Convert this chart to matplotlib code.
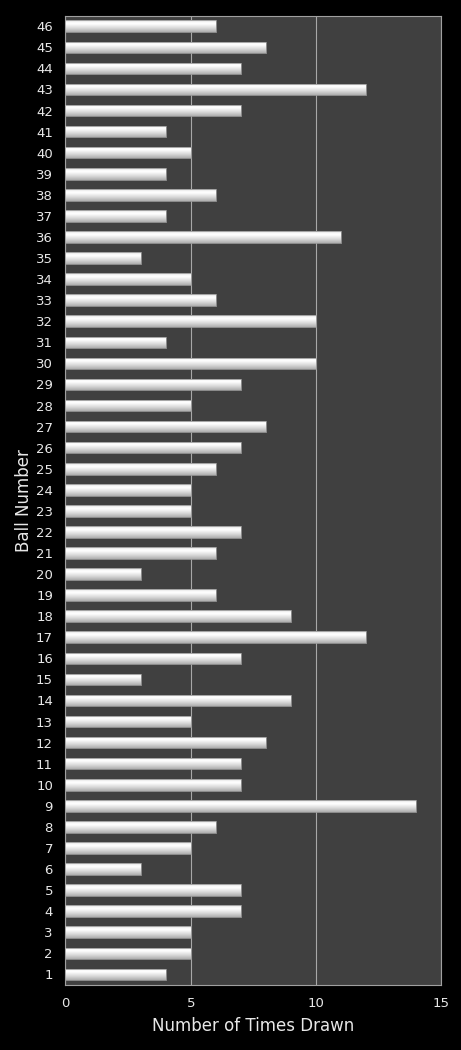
import numpy as np
import matplotlib
matplotlib.use('Agg')
import matplotlib.pyplot as plt
from matplotlib.patches import Rectangle

# ball numbers and how often each was drawn
balls = list(range(1, 47))
times_drawn = [4, 5, 5, 7, 7, 3, 5, 6, 14, 7,
               7, 8, 5, 9, 3, 7, 12, 9, 6, 3,
               6, 7, 5, 5, 6, 7, 8, 5, 7, 10,
               4, 10, 6, 5, 3, 11, 4, 6, 4, 5,
               4, 7, 12, 7, 8, 6]
x_ticks = [0, 5, 10, 15]

plt.rcParams['font.family'] = ['DejaVu Sans']

fig = plt.figure(figsize=(4.61, 10.5), dpi=100, facecolor='black')
ax = fig.add_axes([0.142, 0.062, 0.815, 0.923])
ax.set_facecolor('#404040')

bar_h = 0.55
bars = ax.barh(balls, times_drawn, height=bar_h, color='#e8e8e8',
               edgecolor='none', zorder=3)

# glossy look: smooth vertical gradient (bottom -> top) clipped to each bar
grad = np.linspace(0, 1, 64)
grad = np.interp(grad, [0, 0.35, 0.7, 0.85, 1.0], [0.68, 0.86, 1.0, 0.97, 0.82]).reshape(-1, 1)
for b in bars:
    x0, y0 = b.get_x(), b.get_y()
    w, h = b.get_width(), b.get_height()
    im = ax.imshow(grad, cmap='gray', vmin=0, vmax=1, aspect='auto',
                   extent=[x0, x0 + w, y0, y0 + h], origin='lower',
                   interpolation='bilinear', zorder=4)
    im.set_clip_path(b)
    ax.add_patch(Rectangle((x0, y0), w, h, fill=False, edgecolor='#9a9a9a',
                           linewidth=0.6, zorder=5))

ax.set_xlim(0, 15)
ax.set_ylim(0.5, 46.5)
ax.set_xticks(x_ticks)
ax.set_yticks(balls)
ax.xaxis.grid(True, color='#a8a8a8', linewidth=0.8, zorder=1)
ax.set_axisbelow(True)

ax.tick_params(axis='both', length=0, colors='#e8e8e8', labelsize=9.5)
ax.tick_params(axis='x', pad=9)
ax.tick_params(axis='y', pad=9)
for s in ax.spines.values():
    s.set_color('#a0a0a0')
    s.set_linewidth(0.8)

ax.set_xlabel('Number of Times Drawn', color='#e8e8e8', fontsize=12, labelpad=5)
ax.set_ylabel('Ball Number', color='#e8e8e8', fontsize=12, labelpad=2)

fig.savefig('out.png', dpi=100, facecolor='black')
